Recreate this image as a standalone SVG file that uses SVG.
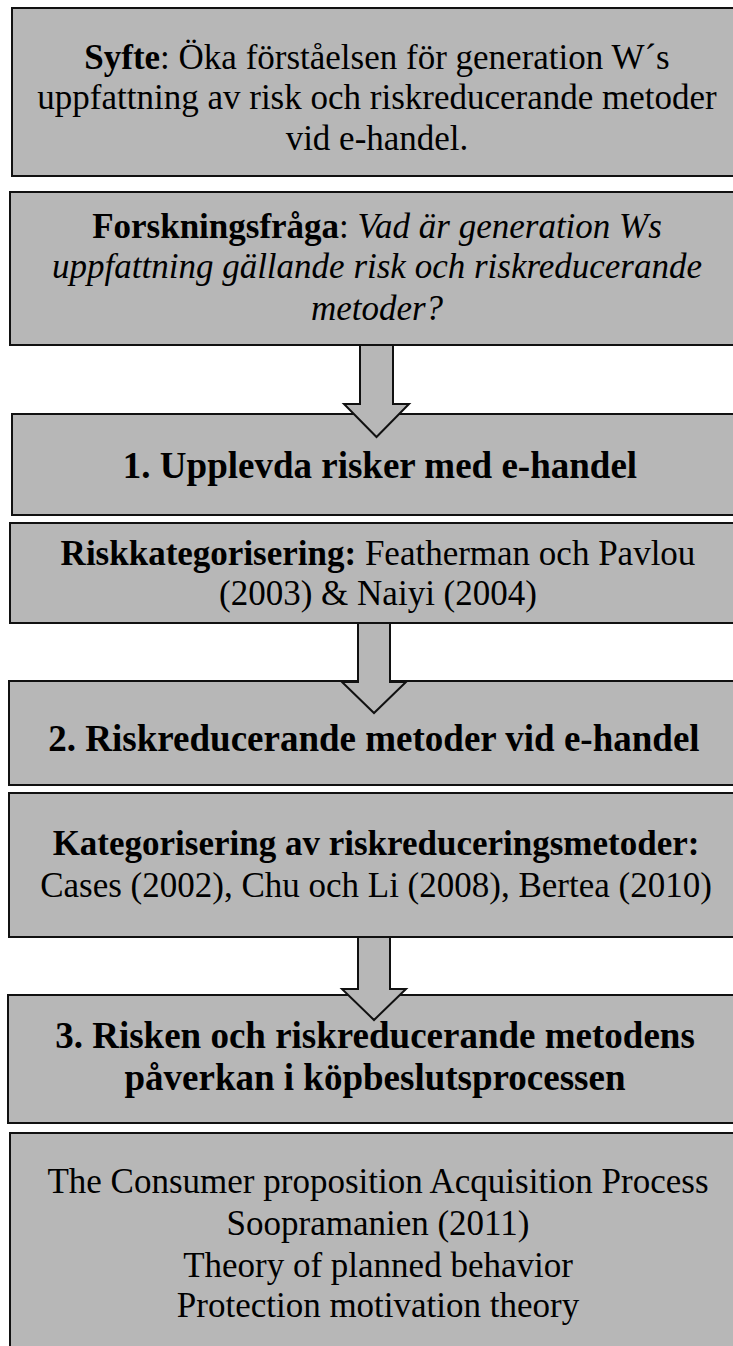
<svg xmlns="http://www.w3.org/2000/svg" width="733" height="1346" viewBox="0 0 733 1346">
<style>
.box{fill:#b7b7b7;stroke:#111;stroke-width:2}
.arr{fill:#b7b7b7;stroke:#111;stroke-width:2;stroke-linejoin:miter}
text{font-family:"Liberation Serif","Times New Roman",serif;fill:#000;text-anchor:middle}
.r{font-size:35px}
.h{font-size:37px;font-weight:bold}
.b{font-weight:bold}
.i{font-style:italic}
</style>
<rect width="733" height="1346" fill="#fff"/>
<g id="n1">
<rect class="box" x="12" y="8" width="740" height="168"/>
<text class="r" x="377" y="69"><tspan class="b">Syfte</tspan>: Öka förståelsen för generation W´s</text>
<text class="r" x="377" y="109">uppfattning av risk och riskreducerande metoder</text>
<text class="r" x="377" y="150">vid e-handel.</text>
</g>
<g id="n2">
<rect class="box" x="10" y="192" width="740" height="153"/>
<text class="r" x="377" y="238"><tspan class="b">Forskningsfråga</tspan>: <tspan class="i">Vad är generation Ws</tspan></text>
<text class="r i" x="377" y="278">uppfattning gällande risk och riskreducerande</text>
<text class="r i" x="377" y="320">metoder?</text>
</g>
<g id="n3">
<rect class="box" x="12" y="414" width="740" height="101"/>
<text class="h" x="380" y="478">1. Upplevda risker med e-handel</text>
</g>
<g id="n4">
<rect class="box" x="10" y="523" width="740" height="100"/>
<text class="r" x="378" y="565"><tspan class="b">Riskkategorisering:</tspan> Featherman och Pavlou</text>
<text class="r" x="378" y="605">(2003) &amp; Naiyi (2004)</text>
</g>
<g id="n5">
<rect class="box" x="9" y="681" width="740" height="104"/>
<text class="h" x="374" y="751">2. Riskreducerande metoder vid e-handel</text>
</g>
<g id="n6">
<rect class="box" x="9" y="793" width="740" height="144"/>
<text class="r b" x="376" y="855">Kategorisering av riskreduceringsmetoder:</text>
<text class="r" x="376" y="897">Cases (2002), Chu och Li (2008), Bertea (2010)</text>
</g>
<g id="n7">
<rect class="box" x="8" y="995" width="740" height="128"/>
<text class="h" x="375" y="1048">3. Risken och riskreducerande metodens</text>
<text class="h" x="375" y="1090">påverkan i köpbeslutsprocessen</text>
</g>
<g id="n8">
<rect class="box" x="10" y="1133" width="740" height="230"/>
<text class="r" x="378" y="1193">The Consumer proposition Acquisition Process</text>
<text class="r" x="378" y="1235">Soopramanien (2011)</text>
<text class="r" x="378" y="1277">Theory of planned behavior</text>
<text class="r" x="378" y="1317">Protection motivation theory</text>
</g>
<g id="connectors">
<polygon class="arr" points="360,345 393,345 393,404 409,404 376.5,437 344,404 360,404"/>
<polygon class="arr" points="358,623 390,623 390,682 406,682 374,713 342,682 358,682"/>
<polygon class="arr" points="358,937 390,937 390,989 406,989 374,1020 342,989 358,989"/>
</g>
</svg>
